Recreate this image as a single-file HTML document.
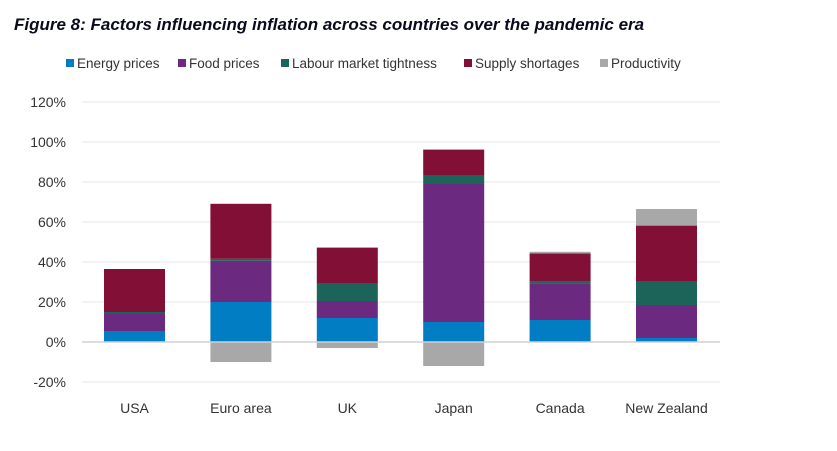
<!DOCTYPE html>
<html><head><meta charset="utf-8"><style>
body{margin:0;background:#fff;width:837px;height:451px;overflow:hidden;font-family:"Liberation Sans",sans-serif}
#t{position:absolute;left:14px;top:15px;font-size:17px;font-weight:bold;font-style:italic;color:#0a0a1e;white-space:nowrap}
</style></head><body>
<div id="t">Figure 8: Factors influencing inflation across countries over the pandemic era</div>
<svg id="c" width="837" height="451" style="position:absolute;left:0;top:0"></svg>
<script>
const categories=["USA","Euro area","UK","Japan","Canada","New Zealand"];
const seriesNames=["Energy prices","Food prices","Labour market tightness","Supply shortages","Productivity"];
const colors=["#007dc3","#6b2a7f","#1c6359","#820f35","#a8a8a8"];
const energy=[5.5,20,12,10,11,2];
const food=[8.5,20.6,8.5,69,18.3,16.5];
const labour=[1,1,9,4.5,1,11.7];
const supply=[21.5,27.5,17.7,12.7,14,28];
const productivity=[0,-10,-3,-12,0.8,8.3];
const ticks=[-20,0,20,40,60,80,100,120];
const svg=document.getElementById('c');const NS="http://www.w3.org/2000/svg";
function y(v){return 342-v*2;}
const x0=81.3,cw=106.4,bw=61;
function cx(i){return x0+cw*(i+0.5);}
function mk(tag,attrs,parent){const e=document.createElementNS(NS,tag);for(const k in attrs)e.setAttribute(k,attrs[k]);(parent||svg).appendChild(e);return e;}
ticks.forEach(t=>{
 if(t!==0){const l=mk('line',{x1:82,x2:720,y1:y(t),y2:y(t),stroke:'#ececec','stroke-width':1.3});
 
 }
 const tx=mk('text',{x:66,y:y(t)+5,'text-anchor':'end','font-size':14,fill:'#333'});tx.textContent=t+'%';
 
 
});
const series=[energy,food,labour,supply,productivity];
categories.forEach((c,i)=>{
 let pos=0,neg=0;
 series.forEach((s,k)=>{const v=s[i];if(!v)return;let a,b;
  if(v>=0){a=pos;b=pos+v;pos=b;}else{a=neg;b=neg+v;neg=b;}
  const r=mk('rect',{x:cx(i)-bw/2,y:Math.min(y(a),y(b)),width:bw,height:Math.abs(y(a)-y(b)),fill:colors[k]});
  
  
 });
 const tx=mk('text',{x:cx(i),y:413,'text-anchor':'middle','font-size':14,fill:'#333'});tx.textContent=c;
 
 
});
const zl=mk('line',{x1:82,x2:720,y1:342,y2:342,stroke:'#d0d0d0','stroke-width':1.5});


const lx=[66,178,281,464,600];
seriesNames.forEach((n,k)=>{
 const g=mk('g',{});
 
 
 mk('rect',{x:lx[k],y:59,width:8,height:8,fill:colors[k]},g);
 const tx=mk('text',{x:lx[k]+11,y:68,'font-size':13.5,fill:'#333'},g);tx.textContent=n;
});
</script>
</body></html>
